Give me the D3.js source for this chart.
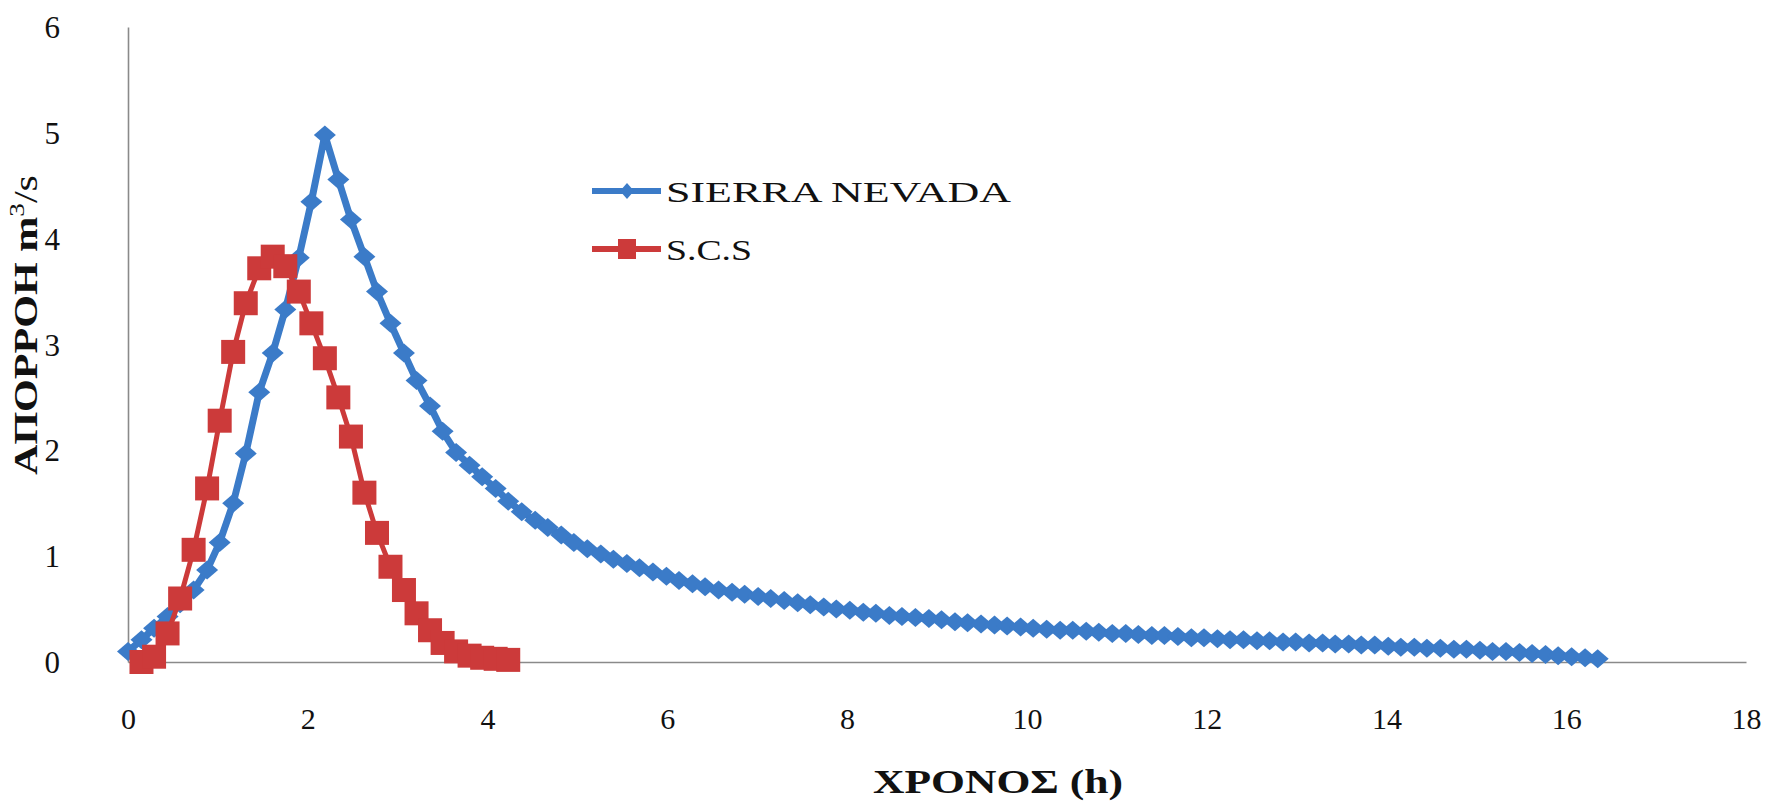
<!DOCTYPE html>
<html>
<head>
<meta charset="utf-8">
<script src="https://cdn.jsdelivr.net/npm/d3@7"></script>
<style>
  html, body { margin: 0; padding: 0; background: #ffffff; }
  svg { display: block; }
</style>
</head>
<body>
<svg id="chart" width="1778" height="808"></svg>
<script>
// ---------------- DATA ----------------
const sierraTime = [0.00, 0.15, 0.29, 0.44, 0.58, 0.73, 0.88, 1.02, 1.17, 1.31, 1.46, 1.61, 1.75, 1.90, 2.04, 2.19,
  2.34, 2.48, 2.63, 2.77, 2.92, 3.07, 3.21, 3.36, 3.50, 3.65, 3.80, 3.94, 4.09, 4.23, 4.38, 4.53, 4.67, 4.82, 4.96,
  5.11, 5.26, 5.40, 5.55, 5.69, 5.84, 5.99, 6.13, 6.28, 6.42, 6.57, 6.72, 6.86, 7.01, 7.15, 7.30, 7.45, 7.59, 7.74,
  7.88, 8.03, 8.18, 8.32, 8.47, 8.61, 8.76, 8.91, 9.05, 9.20, 9.34, 9.49, 9.64, 9.78, 9.93, 10.07, 10.22, 10.37,
  10.51, 10.66, 10.80, 10.95, 11.10, 11.24, 11.39, 11.53, 11.68, 11.83, 11.97, 12.12, 12.26, 12.41, 12.56, 12.70,
  12.85, 12.99, 13.14, 13.29, 13.43, 13.58, 13.72, 13.87, 14.02, 14.16, 14.31, 14.45, 14.60, 14.75, 14.89, 15.04,
  15.18, 15.33, 15.48, 15.62, 15.77, 15.91, 16.06, 16.21, 16.35];
const sierraFlow = [0.10, 0.21, 0.32, 0.43, 0.55, 0.68, 0.87, 1.13, 1.50, 1.97, 2.55, 2.92, 3.33, 3.82, 4.35, 4.98,
  4.56, 4.18, 3.83, 3.50, 3.20, 2.92, 2.66, 2.42, 2.18, 1.98, 1.86, 1.75, 1.64, 1.52, 1.42, 1.34, 1.27, 1.20, 1.13,
  1.07, 1.02, 0.97, 0.93, 0.89, 0.85, 0.81, 0.77, 0.74, 0.71, 0.68, 0.66, 0.64, 0.62, 0.60, 0.58, 0.56, 0.54, 0.52,
  0.50, 0.49, 0.47, 0.46, 0.44, 0.43, 0.42, 0.41, 0.40, 0.38, 0.37, 0.36, 0.35, 0.34, 0.33, 0.32, 0.31, 0.30,
  0.30, 0.29, 0.28, 0.27, 0.27, 0.26, 0.25, 0.25, 0.24, 0.23, 0.23, 0.22, 0.21, 0.21, 0.20, 0.20,
  0.19, 0.19, 0.18, 0.18, 0.17, 0.17, 0.16, 0.16, 0.15, 0.14, 0.14, 0.13, 0.13, 0.12, 0.12, 0.11,
  0.10, 0.10, 0.09, 0.08, 0.07, 0.06, 0.05, 0.04, 0.03];

const scsTime = [0.15, 0.29, 0.44, 0.58, 0.73, 0.88, 1.02, 1.17, 1.31, 1.46, 1.61, 1.75, 1.90, 2.04, 2.19,
  2.34, 2.48, 2.63, 2.77, 2.92, 3.07, 3.21, 3.36, 3.50, 3.65, 3.80, 3.94, 4.09, 4.23];
const scsFlow = [0.00, 0.05, 0.27, 0.60, 1.06, 1.64, 2.28, 2.93, 3.39, 3.72, 3.83, 3.74, 3.50, 3.20, 2.87,
  2.50, 2.13, 1.60, 1.22, 0.90, 0.68, 0.46, 0.30, 0.18, 0.10, 0.06, 0.04, 0.03, 0.02];

const xTicks = [0, 2, 4, 6, 8, 10, 12, 14, 16, 18];
const yTicks = [0, 1, 2, 3, 4, 5, 6];
const seriesNames = ["SIERRA NEVADA", "S.C.S"];
const xTitle = "ΧΡΟΝΟΣ (h)";
const yTitleMain = "ΑΠΟΡΡΟΗ m";
const yTitleSup = "3";
const yTitleTail = "/s";

// ---------------- LAYOUT ----------------
const FONT = "'Liberation Serif', 'Times New Roman', serif";
const BLUE = "#3b7bc8";
const RED = "#cc3a3a";
const AXIS = "#8a8a8a";

const svg = d3.select("#chart");
const x = d3.scaleLinear().domain([0, 18]).range([128, 1746]);
const y = d3.scaleLinear().domain([0, 6]).range([662, 27]);

// axis lines (no tick marks)
const xAxis = d3.axisBottom(x).tickValues(xTicks).tickSize(0).tickPadding(44).tickFormat(d3.format("d"));
const yAxis = d3.axisLeft(y).tickValues(yTicks).tickSize(0).tickPadding(68).tickFormat(d3.format("d"));

const gx = svg.append("g").attr("transform", `translate(0,${y(0)})`).call(xAxis);
gx.select(".domain").attr("stroke", AXIS).attr("stroke-width", 1.6);
gx.selectAll("text").attr("font-family", FONT).attr("font-size", 30).attr("fill", "#111")
  .attr("dy", "0").attr("dominant-baseline", "central").attr("y", 56);

const gy = svg.append("g").attr("transform", `translate(${x(0)},0)`).call(yAxis);
gy.select(".domain").attr("stroke", AXIS).attr("stroke-width", 1.6);
gy.selectAll("text").attr("font-family", FONT).attr("font-size", 31).attr("fill", "#111")
  .attr("dy", "0").attr("dominant-baseline", "central");

// ---------------- SERIES ----------------
const sierra = sierraTime.map((t, i) => ({t, v: sierraFlow[i]})).filter(d => d.v !== undefined);
const scs = scsTime.map((t, i) => ({t, v: scsFlow[i]})).filter(d => d.v !== undefined);

const line = d3.line().x(d => x(d.t)).y(d => y(d.v));

const diamond = (w, h) => `M0,${-h} L${w},0 L0,${h} L${-w},0 Z`;

// Sierra Nevada
svg.append("path").datum(sierra).attr("d", line)
  .attr("fill", "none").attr("stroke", BLUE).attr("stroke-width", 7).attr("stroke-linejoin", "round");
svg.append("g").selectAll("path").data(sierra).join("path")
  .attr("transform", d => `translate(${x(d.t)},${y(d.v)})`)
  .attr("d", diamond(11, 9.5)).attr("fill", BLUE);

// SCS
svg.append("path").datum(scs).attr("d", line)
  .attr("fill", "none").attr("stroke", RED).attr("stroke-width", 5).attr("stroke-linejoin", "round");
const sq = 24;
svg.append("g").selectAll("rect").data(scs).join("rect")
  .attr("x", d => x(d.t) - sq / 2).attr("y", d => y(d.v) - sq / 2)
  .attr("width", sq).attr("height", sq).attr("fill", RED);

// ---------------- LEGEND ----------------
const legend = svg.append("g");
const legendRows = [
  {name: seriesNames[0], color: BLUE, yPos: 191, marker: "diamond", len: 345},
  {name: seriesNames[1], color: RED, yPos: 249, marker: "square", len: 86}
];
legendRows.forEach(r => {
  legend.append("line").attr("x1", 592).attr("x2", 661).attr("y1", r.yPos).attr("y2", r.yPos)
    .attr("stroke", r.color).attr("stroke-width", 6);
  if (r.marker === "diamond") {
    legend.append("path").attr("transform", `translate(627,${r.yPos})`).attr("d", diamond(7, 8)).attr("fill", r.color);
  } else {
    legend.append("rect").attr("x", 618).attr("y", r.yPos - 10).attr("width", 18).attr("height", 20).attr("fill", r.color);
  }
  legend.append("text").attr("x", 666).attr("y", r.yPos).attr("dominant-baseline", "central")
    .attr("font-family", FONT).attr("font-size", 30).attr("fill", "#111")
    .attr("textLength", r.len).attr("lengthAdjust", "spacingAndGlyphs")
    .text(r.name);
});

// ---------------- TITLES ----------------
svg.append("text").attr("x", 998).attr("y", 793).attr("text-anchor", "middle")
  .attr("font-family", FONT).attr("font-size", 33).attr("font-weight", "bold").attr("fill", "#111")
  .attr("textLength", 250).attr("lengthAdjust", "spacingAndGlyphs")
  .text(xTitle);

const yt = svg.append("text").attr("transform", "translate(37,325) rotate(-90)")
  .attr("text-anchor", "middle").attr("font-family", FONT).attr("font-size", 34).attr("fill", "#111")
  .attr("textLength", 300).attr("lengthAdjust", "spacingAndGlyphs");
yt.append("tspan").attr("font-weight", "bold").text(yTitleMain);
yt.append("tspan").attr("font-size", 22).attr("dy", -13).text(yTitleSup);
yt.append("tspan").attr("dy", 13).text(yTitleTail);
</script>
</body>
</html>
